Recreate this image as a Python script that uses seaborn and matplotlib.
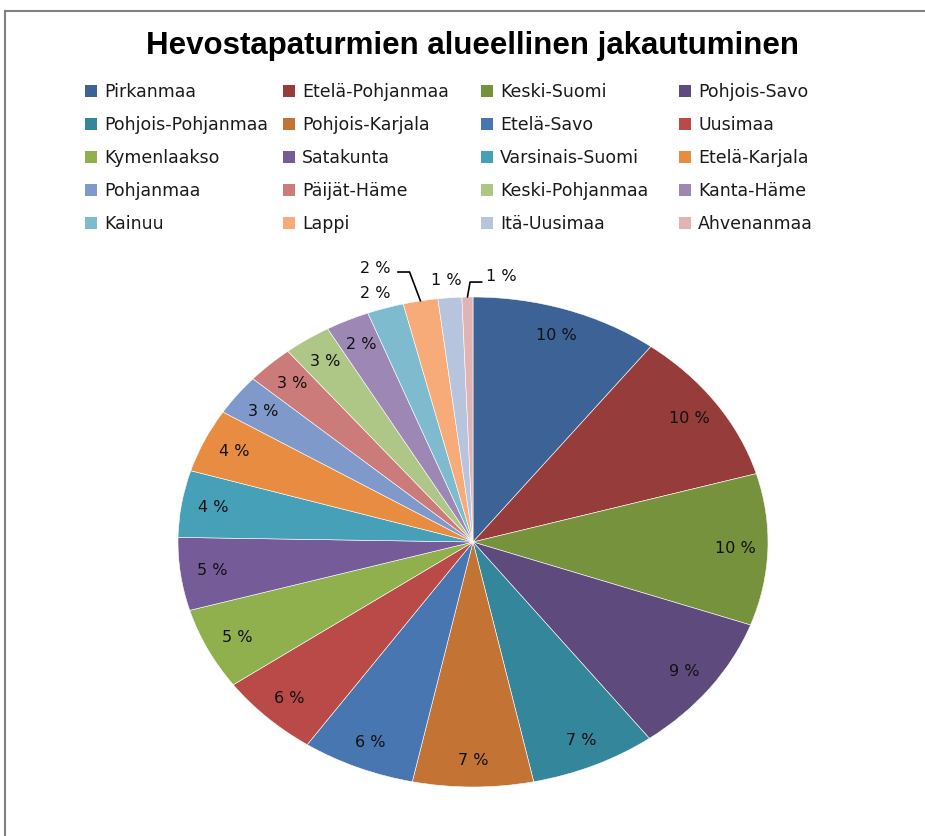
import numpy as np
import matplotlib.pyplot as plt
import seaborn as sns
from matplotlib.patches import Patch, Rectangle

title = 'Hevostapaturmien alueellinen jakautuminen'

regions = ['Pirkanmaa', 'Etelä-Pohjanmaa', 'Keski-Suomi', 'Pohjois-Savo',
           'Pohjois-Pohjanmaa', 'Pohjois-Karjala', 'Etelä-Savo', 'Uusimaa',
           'Kymenlaakso', 'Satakunta', 'Varsinais-Suomi', 'Etelä-Karjala',
           'Pohjanmaa', 'Päijät-Häme', 'Keski-Pohjanmaa', 'Kanta-Häme',
           'Kainuu', 'Lappi', 'Itä-Uusimaa', 'Ahvenanmaa']
shares = [10.3, 10.2, 10.0, 9.3, 6.9, 6.6, 6.2, 5.6, 5.4, 4.8,
          4.4, 4.2, 2.7, 2.6, 2.6, 2.4, 2.0, 1.9, 1.3, 0.6]
colors = ['#3d6396', '#963c3b', '#76923c', '#5f4a7d', '#34879a', '#c37434',
          '#4876b0', '#b94a48', '#8fb04d', '#755c98', '#45a0b8', '#e88c42',
          '#7f9aca', '#cb7b79', '#aec686', '#9d88b5', '#7fbbcf', '#f7ab78',
          '#b6c4de', '#e1b3b2']

sns.set_theme(style='white')
plt.rcParams['font.family'] = ['DejaVu Sans']

fig = plt.figure(figsize=(9.25, 8.36), dpi=100)
fig.patch.set_facecolor('white')

# pie is stretched sideways in the original, so the axes box is the ellipse box
ax = fig.add_axes([178 / 925, 49 / 836, 590 / 925, 490 / 836])
wedges, texts, autotexts = ax.pie(
    shares, colors=colors, startangle=90, counterclock=False,
    autopct=lambda p: f'{p:.0f} %', pctdistance=0.89,
    wedgeprops=dict(edgecolor='white', linewidth=0.4),
    textprops=dict(fontsize=11.5, color='#111111'))
ax.set_aspect('auto')
ax.set_xlim(-1, 1)
ax.set_ylim(-1, 1)
ax.axis('off')

def edge_point(w):
    t = np.deg2rad((w.theta1 + w.theta2) / 2)
    return np.cos(t), np.sin(t)

# small slices: labels outside, two with leader lines
autotexts[16].set_position((-0.332, 1.016))
autotexts[17].set_position((-0.332, 1.118))
autotexts[18].set_position((-0.092, 1.069))
autotexts[19].set_position((0.095, 1.082))

ex, ey = edge_point(wedges[17])
ax.plot([-0.255, -0.215, ex], [1.102, 1.102, ey], color='black', lw=1.2, clip_on=False)
ex, ey = edge_point(wedges[19])
ax.plot([0.030, -0.010, ex], [1.061, 1.061, ey], color='black', lw=1.2, clip_on=False)

fig.text(0.511, 1 - 46 / 836, title, ha='center', va='center', color='black',
         fontsize=22.5, fontweight='bold', family='Liberation Sans')

# legend: 4 fixed columns, row-major order like Excel
col_x = [85, 283, 481, 679]
for c in range(4):
    idx = list(range(c, len(regions), 4))
    fig.legend(handles=[Patch(facecolor=colors[i], edgecolor='none') for i in idx],
               labels=[regions[i] for i in idx],
               loc='upper left', bbox_to_anchor=(col_x[c] / 925, 1 - 83 / 836),
               frameon=False, fontsize=12.5, handlelength=0.7, handleheight=0.7,
               handletextpad=0.4, labelspacing=0.87, borderpad=0, borderaxespad=0,
               labelcolor='#1a1a1a')

# chart border (only top and left visible in the crop)
fig.patches.append(Rectangle((5 / 925, -0.1), 1.2, 1.1 - 11 / 836,
                             transform=fig.transFigure, fill=False,
                             edgecolor='#808080', lw=1.5))

fig.savefig('out.png', dpi=100)
